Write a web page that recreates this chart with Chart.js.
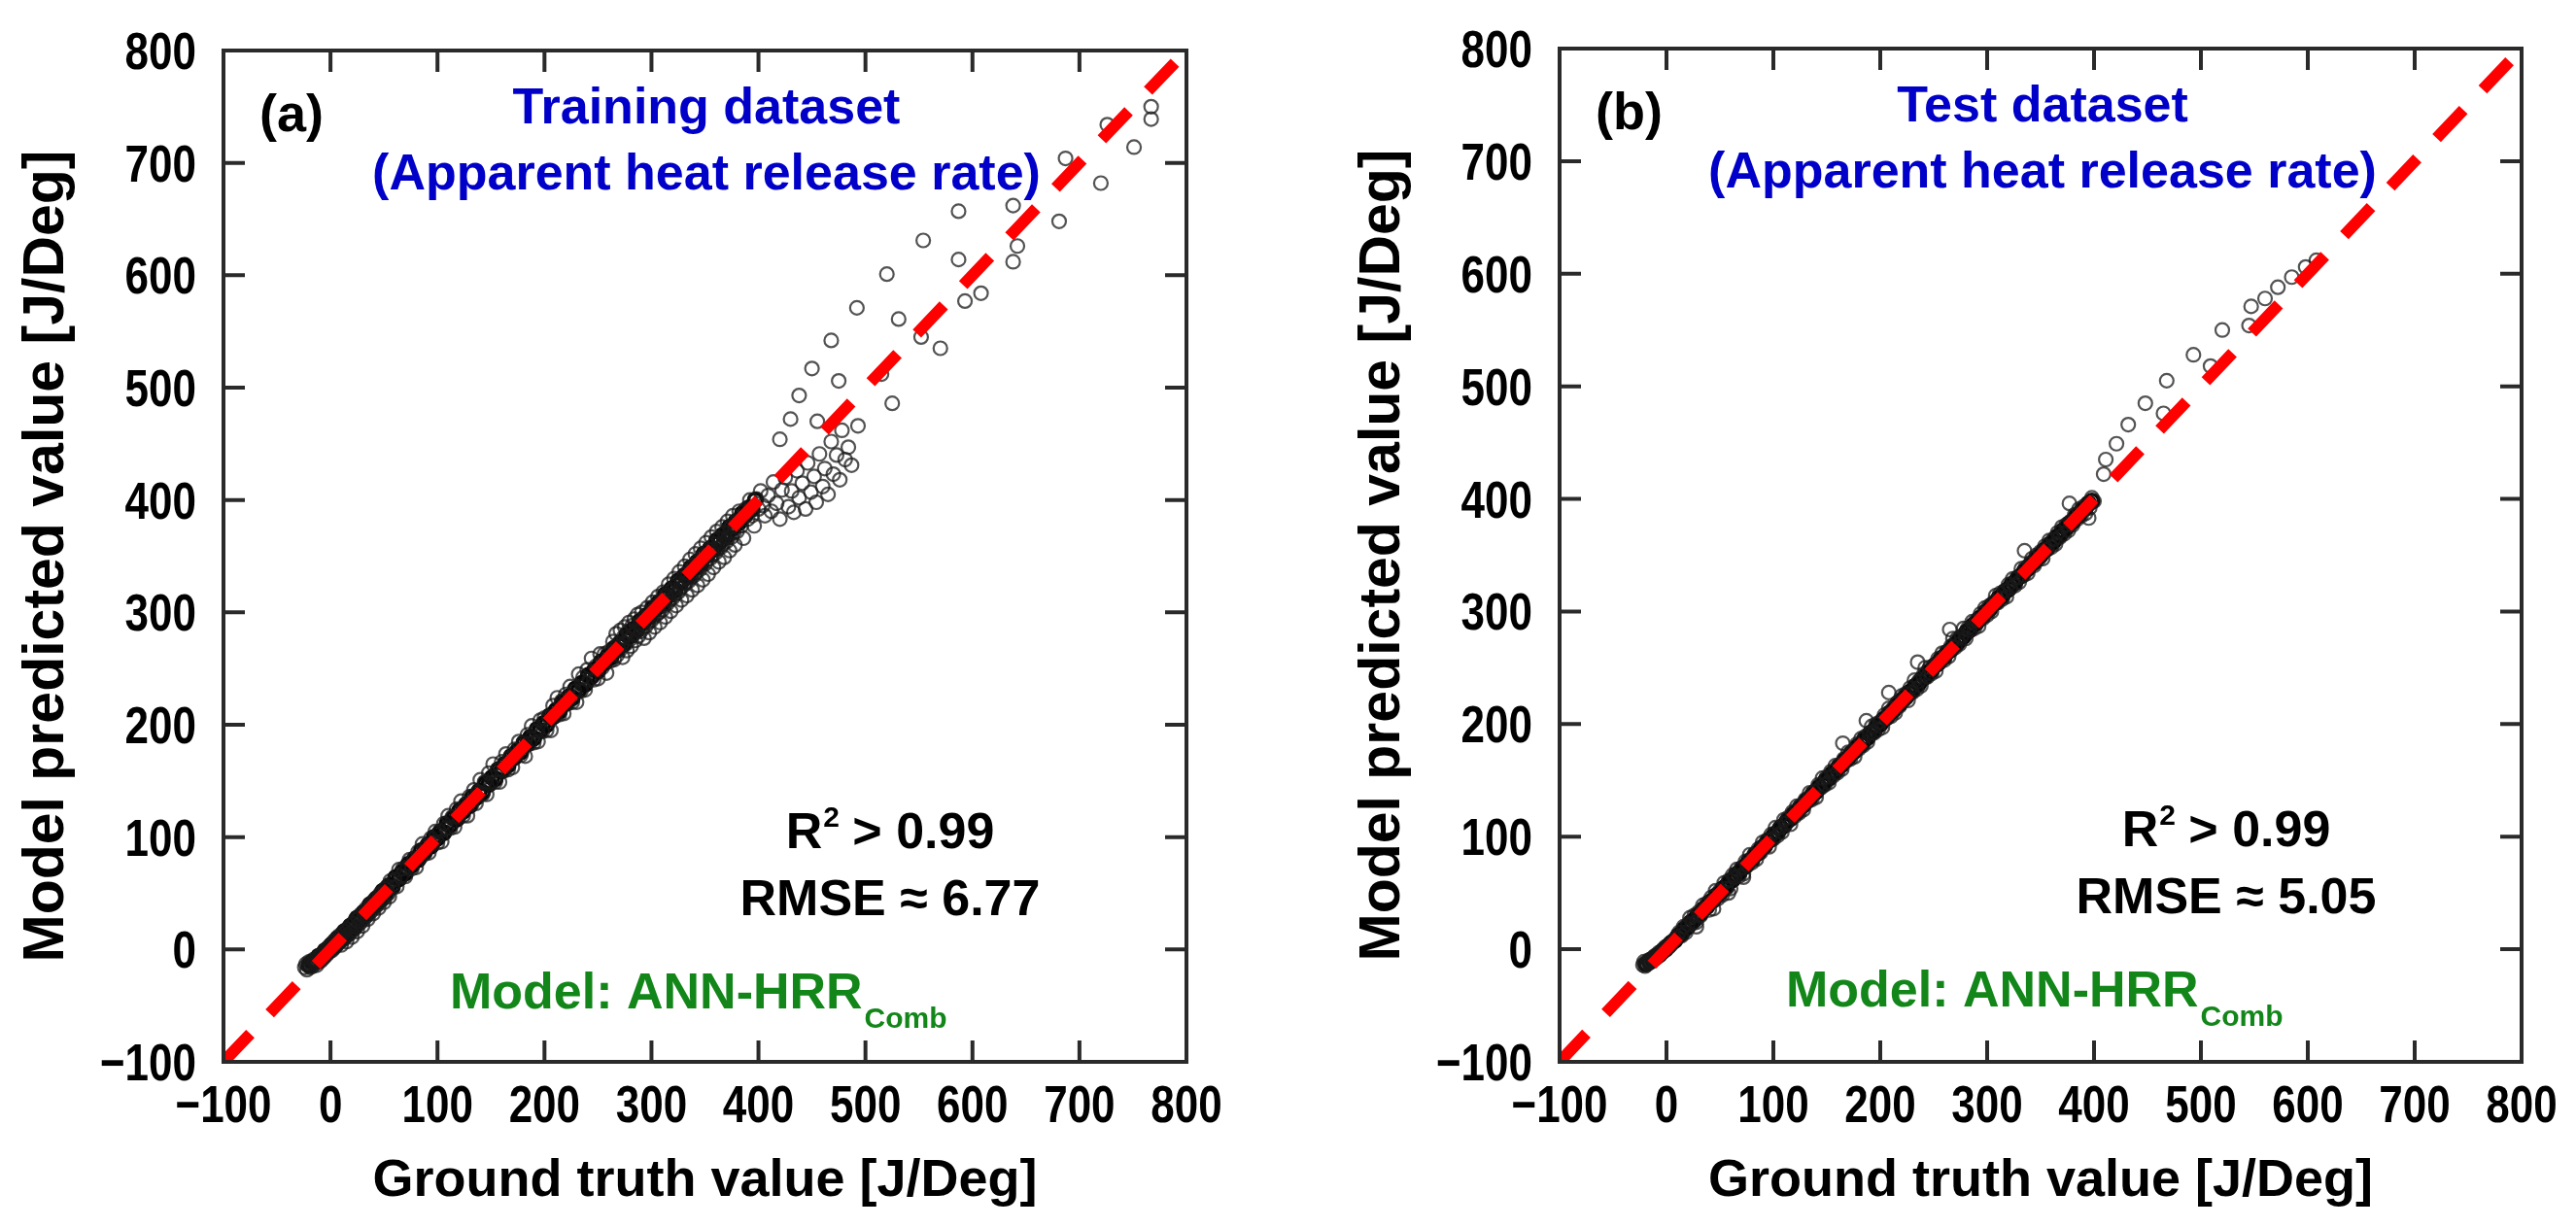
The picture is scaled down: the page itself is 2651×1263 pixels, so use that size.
<!DOCTYPE html>
<html>
<head>
<meta charset="utf-8">
<title>ANN-HRR parity plots</title>
<script src="https://cdn.jsdelivr.net/npm/chart.js@4.4.1/dist/chart.umd.min.js"></script>
<style>
  html, body { margin: 0; padding: 0; background: #fff; overflow: hidden; }
  canvas { position: absolute; top: 0; }
  #chartA { left: 0; }
  #chartB { left: 1325px; }
</style>
</head>
<body>
<canvas id="chartA" width="1325" height="1263"></canvas>
<canvas id="chartB" width="1326" height="1263"></canvas>
<script>
// axis ticks shared by both panels (J/Deg)
const tickValues = [-100, 0, 100, 200, 300, 400, 500, 600, 700, 800];
const identityLine = [-100, 800];

// (a) training dataset: [ground truth, model predicted]
const trainPoints = [
  [-24,-16],[-23,-13],[-22,-18],[-21,-14],[-20,-11],[-19,-16],[-18,-12],[-17,-15],[-16,-9],[-15,-13],
  [-14,-10],[-13,-14],[-12,-7],[-11,-11],[-10,-6],[-9,-10],[-8,-4],[-7,-8],[-6,-2],[-5,-6],
  [-4,0],[-3,-4],[-2,2],[-1,-2],[0,4],[1,-1],[2,6],[3,1],[4,8],[5,3],
  [6,10],[7,5],[8,12],[9,7],[10,4],[11,14],[12,9],[13,16],[14,11],[15,7],
  [16,18],[17,13],[18,21],[19,15],[20,11],[21,23],[22,18],[23,26],[24,20],[25,16],
  [26,28],[27,23],[28,31],[29,25],[30,21],[31,33],[32,28],[33,36],[34,30],[35,27],
  [36,38],[37,33],[38,41],[39,35],[40,32],[41,44],[42,38],[43,46],[44,40],[45,37],
  [46,49],[47,43],[48,51],[49,45],[50,42],[51,54],[52,48],[53,56],[54,50],[55,47],
  [56,61],[58,55],[60,62],[62,56],[64,71],[66,65],[68,72],[70,65],[72,73],[74,80],
  [76,72],[78,81],[80,73],[82,87],[84,82],[86,94],[88,85],[90,92],[92,86],[94,99],
  [96,95],[98,105],[100,95],[102,105],[104,96],[106,112],[108,108],[110,119],[112,108],[114,118],
  [116,109],[118,125],[120,118],[122,132],[124,119],[126,129],[128,119],[130,136],[132,129],[134,142],
  [136,130],[138,140],[140,151],[142,138],[144,149],[146,138],[148,157],[150,148],[152,165],[154,149],
  [156,160],[158,149],[160,167],[162,159],[164,174],[166,160],[168,171],[170,162],[172,178],[174,173],
  [176,185],[178,173],[180,184],[182,172],[184,191],[186,183],[188,199],[190,184],[192,194],[194,185],
  [196,204],[198,194],[200,206],[202,195],[204,207],[206,195],[208,217],[210,208],[212,224],[214,209],
  [216,221],[218,210],[220,227],[222,219],[224,234],[226,220],[228,230],[230,220],[232,245],[234,230],
  [236,242],[238,231],[240,249],[242,240],[244,259],[246,240],[248,252],[250,241],[252,263],[254,251],
  [256,263],[258,246],[260,265],[262,257],
  [264,274],[265,258],[266,268],[267,281],[268,262],[269,272],[270,266],[271,284],[272,270],[273,260],
  [274,278],[275,287],[276,272],[277,266],[278,283],[279,291],[280,276],[281,270],[282,288],[283,280],
  [284,294],[285,275],[286,284],[287,298],[288,279],[289,290],[290,283],[291,300],[292,286],[293,277],
  [294,295],[295,288],[296,304],[297,291],[298,282],[299,299],[300,293],[301,309],[302,296],[303,287],
  [304,305],[305,298],[306,314],[307,300],[308,291],[309,310],[310,302],[311,318],[312,306],[313,296],
  [314,315],[315,308],[316,325],[317,311],[318,301],[319,320],[320,313],[321,330],[322,316],[323,306],
  [324,326],[325,318],[326,336],[327,321],[328,311],[329,330],[330,324],[331,341],[332,326],[333,315],
  [334,335],[335,328],[336,347],[337,331],[338,320],[339,341],[340,333],[341,352],[342,336],[343,324],
  [344,346],[345,338],[346,357],[347,342],[348,329],[349,351],[350,343],[351,362],[352,347],[353,334],
  [354,356],[355,348],[356,367],[357,351],[358,340],[359,361],[360,353],[361,372],[362,357],[363,345],
  [364,366],[365,358],[366,376],[367,361],[368,349],[369,371],[370,363],[371,381],[372,367],[373,355],
  [374,376],[375,367],[376,386],[377,371],[378,360],[379,381],[380,372],[382,390],[384,377],[386,366],
  [388,392],[390,383],[392,400],[394,386],[396,377],[398,401],[400,392],[402,408],[404,395],[406,386],
  [409,404],[412,390],[414,416],[417,397],[420,383],[422,409],[425,420],[428,394],[431,408],[433,389],
  [436,426],[438,402],[441,415],[444,392],[446,433],[449,407],[452,421],[454,398],[457,441],[460,412],
  [462,428],[465,405],[468,452],[470,423],[473,440],[476,418],[478,462],[481,436],[484,447],[487,431],
  [420,454],[430,472],[438,493],[450,517],[468,542],[492,571],[520,601],[554,631],[587,657],[587,614],
  [638,662],[687,704],[726,734],[767,750],[767,739],[751,714],[720,682],[681,648],[642,626],[638,612],
  [608,584],[593,577],[570,535],[552,545],[531,561],[525,486],[515,512],[475,506],[493,466],[455,470]
];
// (a) densest part of the training cloud, right along the diagonal
const trainCore = [
  [-20,-14],[-17,-11],[-14,-10],[-11,-6],[-8,-5],[-5,-1],[-2,0],[1,4],[4,3],[7,10],
  [10,9],[13,16],[16,15],[19,21],[22,20],[25,28],[28,27],[31,33],[34,32],[37,40],
  [40,39],[43,45],[46,44],[49,52],[52,51],[55,57],[58,56],[61,64],[64,63],[67,69],
  [70,68],[73,76],[76,75],[79,81],[82,80],[85,88],[88,87],[91,93],[94,92],[97,100],
  [100,99],[103,105],[106,104],[109,112],[112,111],[115,117],[118,116],[121,124],[124,123],[127,129],
  [130,128],[133,136],[136,135],[139,141],[142,140],[145,148],[148,147],[151,153],[154,152],[157,160],
  [160,159],[163,165],[166,164],[169,172],[172,171],[175,177],[178,176],[181,184],[184,183],[187,189],
  [190,188],[193,196],[196,195],[199,201],[202,200],[205,208],[208,207],[211,213],[214,212],[217,220],
  [220,219],[223,225],[226,224],[229,232],[232,231],[235,237],[238,236],[241,244],[244,243],[247,249],
  [250,248],[253,256],[256,255],[259,261],[262,260],[265,268],[268,267],[271,273],[274,272],[277,280],
  [280,279],[283,285],[286,284],[289,292],[292,291],[295,297],[298,296],[301,304],[304,303],[307,309],
  [310,308],[313,316],[316,315],[319,321],[322,320],[325,328],[328,327],[331,333],[334,332],[337,340],
  [340,339],[343,345],[346,344],[349,352],[352,351],[355,357],[358,356],[361,364],[364,363],[367,369],
  [370,368],[373,376],[376,375],[379,381],[382,380],[385,388],[388,387],[391,393],[394,392],[397,400]
];

// (b) test dataset: [ground truth, model predicted]
const testPoints = [
  [-22,-14],[-21,-11],[-20,-15],[-19,-12],[-18,-13],[-17,-10],[-16,-12],[-15,-9],[-14,-11],[-13,-8],
  [-12,-9],[-11,-6],[-10,-8],[-9,-5],[-8,-6],[-7,-3],[-6,-5],[-5,-2],[-4,-3],[-3,0],
  [-2,-1],[-1,2],[0,0],[1,3],[2,2],[3,5],[4,4],[6,7],[8,9],[10,11],
  [12,15],[14,12],[16,20],[18,15],[20,22],[22,28],[24,23],[26,30],[28,24],[30,33],
  [32,30],[34,39],[36,36],[38,41],[40,35],[42,46],[44,43],[46,52],[48,45],[50,52],
  [52,48],[54,59],[56,54],[58,61],[60,54],[62,66],[64,64],[66,71],[68,65],[70,72],
  [72,67],[74,78],[76,75],[78,84],[80,77],[82,84],[84,80],[86,89],[88,86],[90,95],
  [92,91],[94,97],[96,91],[98,102],[100,98],[102,108],[104,101],[106,108],[108,104],[110,115],
  [112,112],[114,117],[116,111],[118,122],[120,118],[122,127],[124,121],[126,128],[128,124],[130,133],
  [132,131],[134,139],[136,133],[138,140],[140,135],[142,146],[144,143],[146,152],[148,146],[150,153],
  [152,148],[154,158],[156,154],[158,163],[160,157],[162,164],[164,160],[166,169],[168,167],[170,175],
  [172,169],[174,176],[176,171],[178,182],[180,178],[182,187],[184,181],[186,189],[188,184],[190,192],
  [192,198],[194,192],[196,200],[198,195],[200,202],[202,197],[204,208],[206,205],[208,214],[210,207],
  [212,214],[214,210],[216,219],[218,216],[220,225],[222,221],[224,227],[226,221],[228,232],[230,228],
  [232,239],[234,231],[236,238],[238,234],[240,243],[242,250],[244,242],[246,250],[248,245],[250,252],
  [252,247],[254,258],[256,255],[258,263],[260,257],[262,264],[264,260],[266,269],[268,276],[270,268],
  [272,276],[274,271],[276,278],[278,285],[280,276],[282,285],[284,283],[286,291],[288,285],[290,292],
  [292,287],[294,298],[296,294],[298,303],[300,297],[302,305],[304,300],[306,308],[308,314],[310,308],
  [312,316],[314,311],[316,318],[318,313],[320,324],[322,321],[324,329],[326,323],[328,330],[330,326],
  [332,338],[334,332],[336,339],[338,334],[340,342],[342,347],[344,341],[346,350],[348,346],[350,353],
  [352,347],[354,358],[356,355],[358,363],[360,357],[362,364],[364,360],[366,370],[368,366],[370,375],
  [372,369],[374,377],[376,372],[378,380],[380,377],[382,386],[384,382],[386,391],[388,385],[390,393],
  [392,387],[394,396],[396,392],[398,401],[400,398],
  [28,20],[44,36],[58,50],[72,64],[165,183],[187,203],[208,228],[235,255],[265,284],
  [335,354],[377,396],[395,383],[409,422],[411,435],[421,449],[432,466],[448,485],[465,476],[468,505],
  [493,528],[509,518],[520,550],[545,554],[547,571],[560,578],[572,588],[585,597],[598,606],[608,612]
];
// (b) densest part of the test cloud
const testCore = [
  [-19,-13],[-16,-11],[-13,-9],[-10,-7],[-7,-5],[-4,-2],[-1,0],[2,3],[5,6],[8,8],
  [11,12],[14,14],[17,18],[20,20],[23,24],[26,26],[29,30],[32,32],[35,36],[38,38],
  [41,42],[44,44],[47,48],[50,50],[53,54],[56,56],[59,60],[62,62],[65,66],[68,68],
  [71,72],[74,74],[77,78],[80,80],[83,84],[86,86],[89,90],[92,92],[95,96],[98,98],
  [101,102],[104,104],[107,108],[110,110],[113,114],[116,116],[119,120],[122,122],[125,126],[128,128],
  [131,132],[134,134],[137,138],[140,140],[143,144],[146,146],[149,150],[152,152],[155,156],[158,158],
  [161,162],[164,164],[167,168],[170,170],[173,174],[176,176],[179,180],[182,182],[185,186],[188,188],
  [191,192],[194,194],[197,198],[200,200],[203,204],[206,206],[209,210],[212,212],[215,216],[218,218],
  [221,222],[224,224],[227,228],[230,230],[233,234],[236,236],[239,240],[242,242],[245,246],[248,248],
  [251,252],[254,254],[257,258],[260,260],[263,264],[266,266],[269,270],[272,272],[275,276],[278,278],
  [281,282],[284,284],[287,288],[290,290],[293,294],[296,296],[299,300],[302,302],[305,306],[308,308],
  [311,312],[314,314],[317,318],[320,320],[323,324],[326,326],[329,330],[332,332],[335,336],[338,338],
  [341,342],[344,344],[347,348],[350,350],[353,354],[356,356],[359,360],[362,362],[365,366],[368,368],
  [371,372],[374,374],[377,378],[380,380],[383,384],[386,386],[389,390],[392,392],[395,396],[398,398]
];

const panelA = { tag: '(a)', title: ['Training dataset', '(Apparent heat release rate)'], rmse: '6.77' };
const panelB = { tag: '(b)', title: ['Test dataset', '(Apparent heat release rate)'], rmse: '5.05' };

const SANS = '"Liberation Sans", Arial, sans-serif';
const BLUE = '#0000c8';
const GREEN = '#13861a';

function fmtTick(v) {
  return v < 0 ? '\u2212' + Math.abs(v) : String(v);
}

// condensed text, like the narrow bold face of the original figure
function squeezeText(ctx, text, x, y, sx, align) {
  ctx.save();
  ctx.translate(x, y);
  ctx.scale(sx, 1);
  ctx.textAlign = align;
  ctx.fillText(text, 0, 0);
  ctx.restore();
}

// box, inward ticks, tick labels and the text placed inside each panel
const panelDecor = {
  id: 'panelDecor',
  afterDraw(chart, args, opts) {
    const ctx = chart.ctx;
    const a = chart.chartArea;
    const xs = chart.scales.x, ys = chart.scales.y;
    ctx.save();
    ctx.strokeStyle = '#2a2a2a';
    ctx.lineWidth = 4;
    ctx.strokeRect(a.left, a.top, a.right - a.left, a.bottom - a.top);
    ctx.beginPath();
    tickValues.forEach(v => {
      const x = xs.getPixelForValue(v);
      const y = ys.getPixelForValue(v);
      ctx.moveTo(x, a.bottom); ctx.lineTo(x, a.bottom - 22);
      ctx.moveTo(x, a.top); ctx.lineTo(x, a.top + 22);
      ctx.moveTo(a.left, y); ctx.lineTo(a.left + 22, y);
      ctx.moveTo(a.right, y); ctx.lineTo(a.right - 22, y);
    });
    ctx.stroke();

    ctx.textBaseline = 'alphabetic';
    ctx.fillStyle = '#000';
    ctx.font = 'bold 53px ' + SANS;
    tickValues.forEach(v => {
      squeezeText(ctx, fmtTick(v), xs.getPixelForValue(v), a.bottom + 62, 0.83, 'center');
      squeezeText(ctx, fmtTick(v), a.left - 28, ys.getPixelForValue(v) + 19, 0.83, 'right');
    });

    const p = opts.panel;

    // panel tag
    ctx.textAlign = 'left';
    ctx.font = 'bold 54px ' + SANS;
    ctx.fillText(p.tag, a.left + 37, a.top + 83);

    // dataset title
    ctx.fillStyle = BLUE;
    ctx.textAlign = 'center';
    ctx.font = 'bold 52px ' + SANS;
    ctx.fillText(p.title[0], a.left + 497, a.top + 75);
    ctx.fillText(p.title[1], a.left + 497, a.top + 143);

    // statistics
    ctx.fillStyle = '#000';
    ctx.textAlign = 'left';
    const cx = a.left + 686;
    const big = 'bold 52px ' + SANS, small = 'bold 30px ' + SANS;
    ctx.font = big;
    const wR = ctx.measureText('R').width;
    const wRest = ctx.measureText(' > 0.99').width;
    ctx.font = small;
    const w2 = ctx.measureText('2').width;
    const x0 = cx - (wR + w2 + wRest) / 2;
    const yR = a.top + 821;
    ctx.font = big;
    ctx.fillText('R', x0, yR);
    ctx.font = small;
    ctx.fillText('2', x0 + wR + 1, yR - 22);
    ctx.font = big;
    ctx.fillText(' > 0.99', x0 + wR + w2, yR);
    ctx.textAlign = 'center';
    ctx.fillText('RMSE \u2248 ' + p.rmse, cx, a.top + 890);

    // model label with subscript
    ctx.textAlign = 'left';
    ctx.fillStyle = GREEN;
    ctx.font = big;
    const mx = a.left + 233;
    ctx.fillText('Model: ANN-HRR', mx, a.top + 986);
    const mw = ctx.measureText('Model: ANN-HRR').width;
    ctx.font = small;
    ctx.fillText('Comb', mx + mw + 2, a.top + 1006);
    ctx.restore();
  }
};

function makeChart(id, points, core, panel, pad) {
  const titleFont = { family: SANS, weight: 'bold', size: 54, lineHeight: 1 };
  return new Chart(document.getElementById(id), {
    type: 'scatter',
    data: {
      datasets: [
        {
          type: 'line',
          data: identityLine.map(v => ({ x: v, y: v })),
          borderColor: '#ff0000',
          borderWidth: 12,
          borderDash: [40, 29],
          borderCapStyle: 'butt',
          pointRadius: 0,
          clip: 0,
          order: 0
        },
        {
          data: points.map(p => ({ x: p[0], y: p[1] })),
          pointStyle: 'circle',
          pointRadius: 7,
          borderWidth: 2.2,
          borderColor: 'rgba(25,25,25,0.75)',
          backgroundColor: 'rgba(0,0,0,0)',
          order: 1
        },
        {
          data: core.map(p => ({ x: p[0], y: p[1] })),
          pointStyle: 'circle',
          pointRadius: 7,
          borderWidth: 3.5,
          borderColor: '#080808',
          backgroundColor: 'rgba(0,0,0,0)',
          order: 2
        }
      ]
    },
    options: {
      responsive: false,
      animation: false,
      devicePixelRatio: 1,
      events: [],
      layout: { padding: pad },
      plugins: {
        legend: { display: false },
        tooltip: { enabled: false },
        panelDecor: { panel: panel }
      },
      scales: {
        x: {
          type: 'linear',
          min: -100, max: 800,
          grid: { display: false, drawTicks: false },
          border: { display: false },
          ticks: { display: false, stepSize: 100 },
          title: { display: true, text: 'Ground truth value [J/Deg]', color: '#000', font: titleFont, padding: { top: 0, bottom: 20 } },
          afterFit: s => { s.height = 170; }
        },
        y: {
          type: 'linear',
          min: -100, max: 800,
          grid: { display: false, drawTicks: false },
          border: { display: false },
          ticks: { display: false, stepSize: 100 },
          title: { display: true, text: 'Model predicted value [J/Deg]', color: '#000', font: Object.assign({}, titleFont, { size: 59 }), padding: { top: 19, bottom: 0 } },
          afterFit: s => { s.width = 230; }
        }
      }
    },
    plugins: [panelDecor]
  });
}

makeChart('chartA', trainPoints, trainCore, panelA, { left: 0, right: 104, top: 52, bottom: 0 });
makeChart('chartB', testPoints, testCore, panelB, { left: 50, right: 56, top: 50, bottom: 0 });
</script>
</body>
</html>
